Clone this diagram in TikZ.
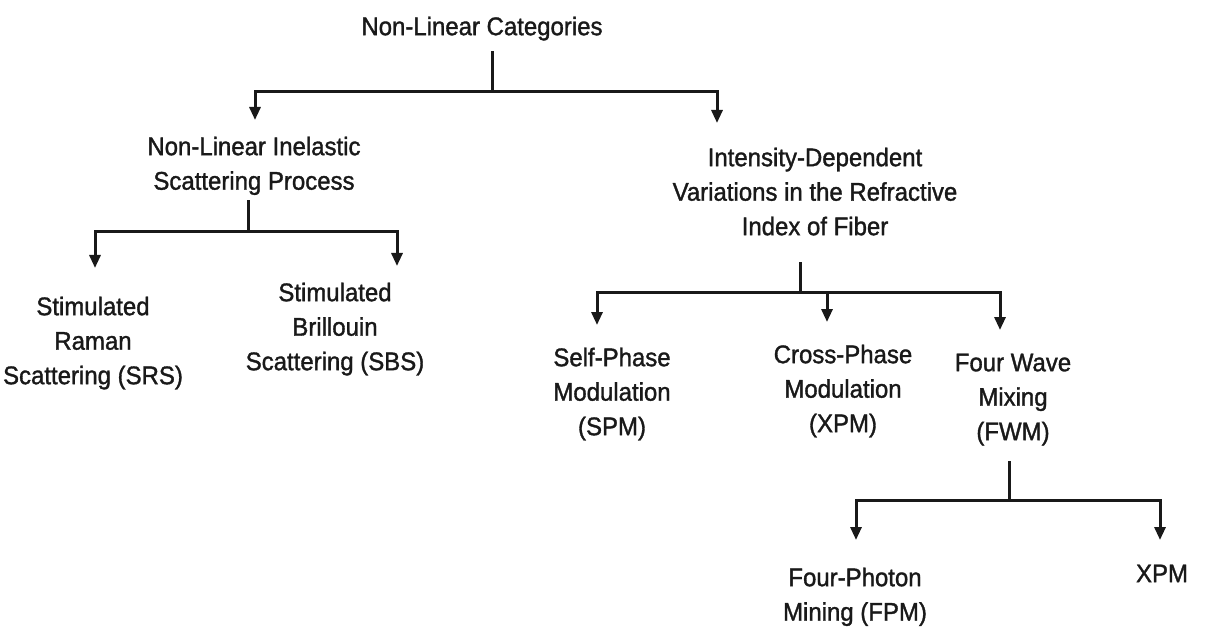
\documentclass[tikz,border=0pt]{standalone}
\usepackage{fontspec}
\setmainfont{Liberation Sans}[FakeStretch=0.94,FakeBold=1.3]
\usetikzlibrary{arrows.meta}
\begin{document}
\begin{tikzpicture}[x=1pt,y=1pt,
  lbl/.style={anchor=north,inner sep=0pt,align=center,text=black!90,font=\fontsize{25.5}{34.5}\selectfont},
  ln/.style={line width=3pt,line cap=rect,draw=black!90},
  arr/.style={line width=3pt,draw=black!90,-{Triangle[length=13pt,width=11pt]}}]
\useasboundingbox[fill=white] (0,0) rectangle (1209,-628);
% nodes
\node[lbl] (root) at (482,-16.5) {Non-Linear Categories};
\node[lbl] (nlis) at (254,-136.5) {Non-Linear Inelastic\\Scattering Process};
\node[lbl] (ifib) at (815,-147.5) {Intensity-Dependent\\Variations in the Refractive\\Index of Fiber};
\node[lbl] (srs) at (93,-296.5) {Stimulated\\Raman\\Scattering (SRS)};
\node[lbl] (sbs) at (335,-282.5) {Stimulated\\Brillouin\\Scattering (SBS)};
\node[lbl] (spm) at (612,-347.5) {Self-Phase\\Modulation\\(SPM)};
\node[lbl] (xpm) at (843,-344.5) {Cross-Phase\\Modulation\\(XPM)};
\node[lbl] (fwm) at (1013,-353.5) {Four Wave\\Mixing\\(FWM)};
\node[lbl] (fpm) at (855,-567.5) {Four-Photon\\Mining (FPM)};
\node[lbl] (xpmb) at (1162,-564.5) {XPM};
% junctions
\coordinate (j0) at (492,-92);
\coordinate (j1) at (248,-232);
\coordinate (j2) at (800,-292);
\coordinate (j3) at (1009,-500);
% level 1
\draw[ln,shorten <=12pt] (root.south -| j0) -- (j0);
\draw[arr] (j0) -| ([xshift=1pt,yshift=16.5pt]nlis.north);
\draw[arr] (j0) -| ([xshift=-98pt,yshift=24.5pt]ifib.north);
% level 2 left
\draw[ln,shorten <=6pt] (nlis.south -| j1) -- (j1);
\draw[arr] (j1) -| ([xshift=2pt,yshift=28.5pt]srs.north);
\draw[arr] (j1) -| ([xshift=62pt,yshift=16.5pt]sbs.north);
% level 2 right
\draw[ln,shorten <=28pt] (ifib.south -| j2) -- (j2);
\draw[arr] (j2) -| ([xshift=-15pt,yshift=22.5pt]spm.north);
\draw[arr] (j2) -| ([xshift=-16pt,yshift=22.5pt]xpm.north);
\draw[arr] (j2) -| ([xshift=-13pt,yshift=23.5pt]fwm.north);
% level 3
\draw[ln,shorten <=17pt] (fwm.south -| j3) -- (j3);
\draw[arr] (j3) -| ([xshift=1pt,yshift=27.5pt]fpm.north);
\draw[arr] (j3) -| ([xshift=-2pt,yshift=24.5pt]xpmb.north);
\end{tikzpicture}
\end{document}
